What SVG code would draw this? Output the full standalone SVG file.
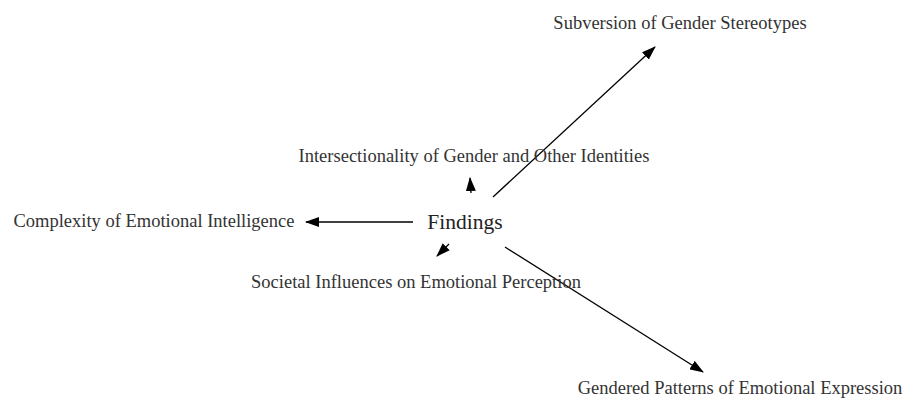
<svg xmlns="http://www.w3.org/2000/svg" width="904" height="401" viewBox="0 0 904 401">
<defs>
<marker id="ah" markerWidth="14" markerHeight="10" refX="13" refY="5" orient="auto" markerUnits="userSpaceOnUse">
<path d="M0,0 L14,5 L0,10 Z" fill="#000"/>
</marker>
<style>
.lbl{font-family:"Liberation Serif","Times New Roman",serif;font-size:18.5px;fill:#333;text-anchor:middle}
.main{font-family:"Liberation Serif","Times New Roman",serif;font-size:21.5px;fill:#222;text-anchor:middle}
.edge{stroke:#000;stroke-width:1.3;fill:none;marker-end:url(#ah)}
</style>
</defs>
<rect width="904" height="401" fill="#fff"/>
<g id="connectors">
<line class="edge" x1="493" y1="197" x2="655" y2="47"/>
<line class="edge" x1="471" y1="193" x2="470" y2="178"/>
<line class="edge" x1="413" y1="222" x2="306" y2="222"/>
<line class="edge" x1="449" y1="244" x2="437" y2="256"/>
<line class="edge" x1="505" y1="247" x2="703" y2="372"/>
</g>
<g id="findings"><text class="main" x="465" y="229">Findings</text></g>
<g id="subversion"><text class="lbl" x="680" y="29">Subversion of Gender Stereotypes</text></g>
<g id="intersectionality"><text class="lbl" x="474" y="162">Intersectionality of Gender and Other Identities</text></g>
<g id="complexity"><text class="lbl" x="154" y="227">Complexity of Emotional Intelligence</text></g>
<g id="societal"><text class="lbl" x="416" y="288">Societal Influences on Emotional Perception</text></g>
<g id="gendered"><text class="lbl" x="740" y="394">Gendered Patterns of Emotional Expression</text></g>
</svg>
